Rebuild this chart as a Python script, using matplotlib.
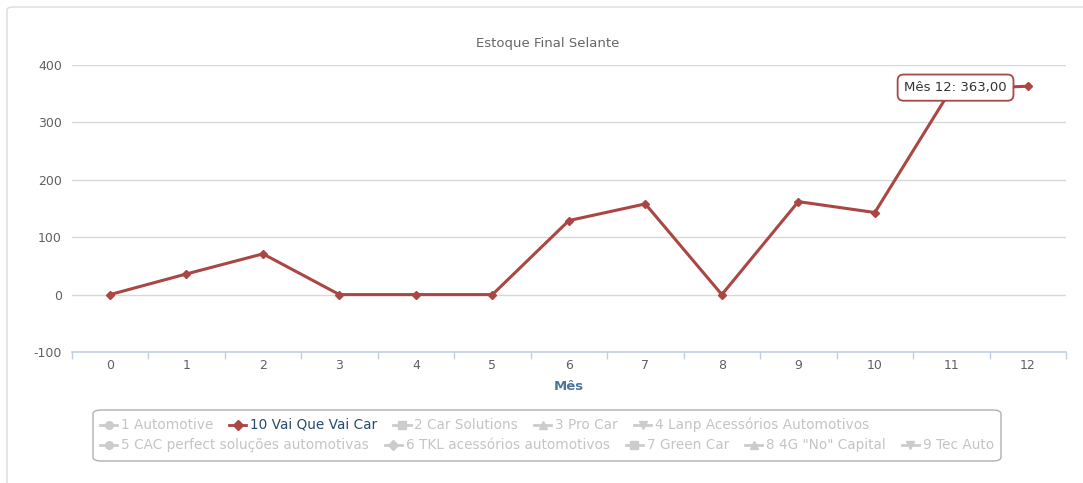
import matplotlib
matplotlib.use("Agg")
import matplotlib.pyplot as plt
from matplotlib.lines import Line2D
from matplotlib.patches import FancyBboxPatch
from matplotlib.ticker import FixedLocator

plt.rcParams['font.family'] = ['DejaVu Sans']
plt.rcParams['axes.unicode_minus'] = False

# Data
meses = list(range(13))
estoque = [0, 36, 71, 0, 0, 0, 129, 158, 0, 162, 143, 358, 363]
y_ticks = [-100, 0, 100, 200, 300, 400]
titulo = "Estoque Final Selante"
serie_ativa = "10 Vai Que Vai Car"
legenda = [
    ["1 Automotive", "10 Vai Que Vai Car", "2 Car Solutions", "3 Pro Car",
     "4 Lanp Acessórios Automotivos"],
    ["5 CAC perfect soluções automotivas", "6 TKL acessórios automotivos",
     "7 Green Car", "8 4G \"No\" Capital", "9 Tec Auto"],
]
marcadores = {
    "1 Automotive": "o", "10 Vai Que Vai Car": "D", "2 Car Solutions": "s",
    "3 Pro Car": "^", "4 Lanp Acessórios Automotivos": "v",
    "5 CAC perfect soluções automotivas": "o", "6 TKL acessórios automotivos": "D",
    "7 Green Car": "s", "8 4G \"No\" Capital": "^", "9 Tec Auto": "v",
}

W, H = 1083, 483
fig = plt.figure(figsize=(W / 100, H / 100), dpi=100)
fig.patch.set_facecolor("white")

def fx(px):
    return px / W

def fy(py):
    return 1 - py / H

# outer container frame
frame = FancyBboxPatch((fx(7), fy(520)), fx(1120), fy(7) - fy(520),
                       boxstyle="round,pad=0,rounding_size=0.006",
                       transform=fig.transFigure, facecolor="none",
                       edgecolor="#dcdcdc", linewidth=1.0, zorder=-5)
fig.patches.append(frame)

left, right, top, bottom = 71.75, 1066, 65, 352
ax = fig.add_axes([fx(left), fy(bottom), fx(right) - fx(left), fy(top) - fy(bottom)])
ax.set_facecolor("none")
ax.set_zorder(2)

LINE = "#AA4643"
ax.plot(meses, estoque, color=LINE, lw=2.2, marker="D", ms=4.5,
        markeredgecolor=LINE, zorder=3, clip_on=False)

ax.set_xlim(-0.5, 12.5)
ax.set_ylim(-100, 400)
ax.set_yticks(y_ticks)
ax.set_xticks(meses)
ax.xaxis.set_minor_locator(FixedLocator([m + 0.5 for m in range(-1, 13)]))
ax.grid(axis="y", color="#d8d8d8", lw=1)
ax.set_axisbelow(True)

for s in ["top", "right", "left"]:
    ax.spines[s].set_visible(False)
ax.spines["bottom"].set_color("#C0D0E0")
ax.spines["bottom"].set_linewidth(1.2)

ax.tick_params(axis="x", which="major", length=0, pad=5, labelsize=9,
               labelcolor="#606060")
ax.tick_params(axis="x", which="minor", length=5, width=1, color="#C0D0E0")
ax.tick_params(axis="y", length=0, pad=7, labelsize=9, labelcolor="#606060")

ax.set_xlabel("Mês", fontsize=9.5, fontweight="bold", color="#4d759e", labelpad=6)

fig.text(fx(548), fy(44), titulo, ha="center", va="center", fontsize=9.5,
         color="#666666")

# tooltip for the last point
ax.annotate(f"Mês {meses[-1]}: {estoque[-1]:.2f}".replace(".", ","),
            xy=(meses[-1], estoque[-1]), xytext=(-52, -1), textcoords="offset points",
            ha="center", va="center", fontsize=9.5, color="#333333", zorder=5,
            bbox=dict(boxstyle="round,pad=0.5,rounding_size=0.45", fc="white",
                      ec=LINE, lw=1.3))

# legend box
lg_left, lg_right, lg_top, lg_bot = 93, 1001, 410, 461
box = FancyBboxPatch((fx(lg_left), fy(lg_bot)), fx(lg_right - lg_left),
                     fy(lg_top) - fy(lg_bot),
                     boxstyle="round,pad=0,rounding_size=0.008",
                     transform=fig.transFigure, facecolor="white",
                     edgecolor="#b0b0b0", linewidth=1.0)
fig.patches.append(box)

fig.canvas.draw()
renderer = fig.canvas.get_renderer()
row_y = [425, 445]
for row, ypix in zip(legenda, row_y):
    x = 100
    for nome in row:
        ativo = nome == serie_ativa
        cor_m = LINE if ativo else "#cccccc"
        cor_t = "#274b6d" if ativo else "#c4c4c4"
        fig.lines.append(Line2D([fx(x), fx(x + 17)], [fy(ypix), fy(ypix)],
                                transform=fig.transFigure, color=cor_m, lw=2))
        fig.lines.append(Line2D([fx(x + 8.5)], [fy(ypix)], transform=fig.transFigure,
                                marker=marcadores[nome], ms=5.5, color=cor_m, lw=0))
        t = fig.text(fx(x + 21), fy(ypix), nome, ha="left", va="center",
                     fontsize=9.8, color=cor_t)
        w = t.get_window_extent(renderer).width
        x = x + 21 + w + 16

fig.savefig("out.png", dpi=100, facecolor="white")
